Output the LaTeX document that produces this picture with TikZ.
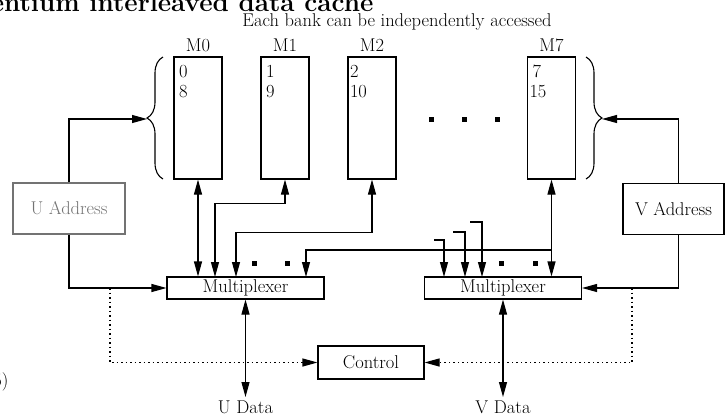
\documentclass[tikz,border=0pt]{standalone}
\usepackage{fontspec}
\usepackage{tikz}
\usetikzlibrary{positioning,arrows.meta,decorations.pathreplacing}

\begin{document}
\begin{tikzpicture}[
    x=1pt, y=-1pt,
    line width=1.1pt,
    font=\fontsize{18.5}{20}\selectfont,
    bank/.style={draw, minimum width=48pt, minimum height=122pt, inner sep=0pt},
    celltext/.style={anchor=north west, align=left, inner sep=0pt},
    mux/.style={draw, minimum width=157pt, minimum height=22pt, inner sep=0pt},
    addr/.style={draw, minimum width=104pt, minimum height=51pt, inner sep=0pt},
    ctrlbox/.style={draw, minimum width=106pt, minimum height=33pt, inner sep=0pt},
    ar/.style={-{Triangle[length=15pt,width=8pt]}},
    dar/.style={{Triangle[length=15pt,width=8pt]}-{Triangle[length=15pt,width=8pt]}},
    dotline/.style={dash pattern=on 1.5pt off 3pt},
    bigdot/.style={fill, minimum size=5pt, inner sep=0pt},
    brc/.style={decorate, decoration={brace, amplitude=16pt}},
    lbl/.style={inner sep=0pt, label distance=4pt},
    datatext/.style={anchor=north, inner sep=0.5pt},
]
\useasboundingbox (0,0) rectangle (726,418);

% Headings (cut by the page edge, as in the scan).
\node[anchor=base east, inner sep=0pt, font=\fontsize{26}{28}\selectfont\bfseries] (title) at (374,11) {Pentium interleaved data cache};
\node[anchor=base, inner sep=0pt] (note) at (397,26) {Each bank can be independently accessed};
\node[anchor=base east, inner sep=0pt] (fig) at (9,386) {(5)};

% Banks.
\node[bank, label={[lbl]above:M0}] (bank0) at (198,118) {};
\node[bank, label={[lbl]above:M1}] (bank1) at (285,118) {};
\node[bank, label={[lbl]above:M2}] (bank2) at (372,118) {};
\node[bank, label={[lbl]above:M7}] (bank7) at (551.5,118) {};
\node[celltext] (cell0) at ([xshift=5pt,yshift=-8pt]bank0.north west) {0\\8};
\node[celltext] (cell1) at ([xshift=5pt,yshift=-8pt]bank1.north west) {1\\9};
\node[celltext] (cell2) at ([xshift=2pt,yshift=-8pt]bank2.north west) {2\\10};
\node[celltext] (cell7) at ([xshift=2pt,yshift=-8pt]bank7.north west) {\,7\\15};
\foreach \x in {431,464,497}
  \node[bigdot] (dot\x) at (\x,119) {};

% Braces round the banks.
\coordinate (lbrace) at (147,119);
\coordinate (rbrace) at (602,119);
\draw[brc] (163,179) -- (163,57);
\draw[brc] (586,57) -- (586,179);

% Address, multiplexers, control.
\node[addr, draw=black!55, text=black!55, minimum width=112pt] (uaddr) at (69,208.5) {U Address};
\node[addr, minimum width=101pt] (vaddr) at (673.5,209) {V Address};
\node[mux] (umux) at (245.5,288) {Multiplexer};
\node[mux] (vmux) at (503,288) {Multiplexer};
\node[ctrlbox] (ctrl) at (371,362.5) {Control};
\node[datatext] (udata) at (umux.south |- 0,400) {U Data};
\node[datatext] (vdata) at (vmux.south |- 0,400) {V Data};
\foreach \x in {254,287,501,535}
  \node[bigdot] (mdot\x) at (\x,263) {};

% Address paths.
\draw[ar] (uaddr.north) |- (lbrace);
\draw[ar] ([xshift=5pt]vaddr.north) |- (rbrace);
\draw[ar] (uaddr.south) |- (umux.west);
\draw[ar] ([xshift=5pt]vaddr.south) |- (vmux.east);

% Bank to multiplexer paths.
\coordinate (uin1) at (215,277);
\coordinate (uin2) at (236,277);
\coordinate (uin3) at (306,277);
\coordinate (j7) at (bank7.south |- 0,250);
\draw[dar] (bank0.south) -- (bank0.south |- umux.north);
\draw[dar] (bank1.south) -- ++(0,24) -| (uin1);
\draw[dar] (bank2.south) -- ++(0,53) -| (uin2);
\draw[dar] (bank7.south) -- (bank7.south |- vmux.north);
\draw[ar] (j7) -| (uin3);
\coordinate (vs1) at (434,240);
\coordinate (vs2) at (453,232);
\coordinate (vs3) at (470,222);
\draw[ar] (vs1) -| (444,277);
\draw[ar] (vs2) -| (465,277);
\draw[ar] (vs3) -| (482,277);

% Data and control.
\draw[dar, shorten >=3pt] (umux.south) -- (udata.north);
\draw[dar, shorten >=3pt] (vmux.south) -- (vdata.north);
\coordinate (udot) at (110,288);
\coordinate (vdot) at (632,288);
\draw[dotline, ar] (udot) |- (ctrl.west);
\draw[dotline, ar] (vdot) |- (ctrl.east);
\end{tikzpicture}
\end{document}
